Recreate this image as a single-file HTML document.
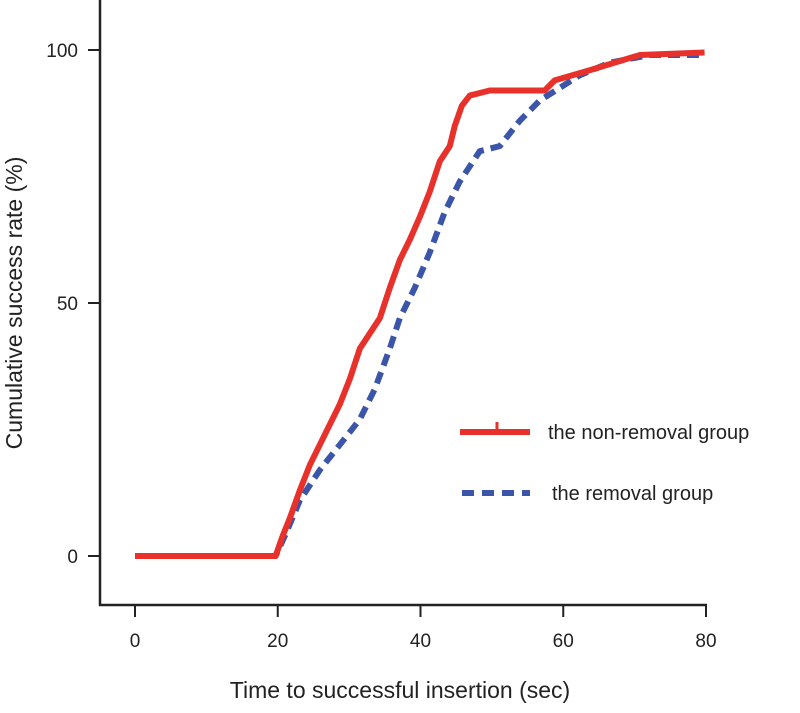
<!DOCTYPE html>
<html><head><meta charset="utf-8"><style>
body{margin:0;background:#fff}
text{font-family:"Liberation Sans",sans-serif;fill:#222}
</style></head><body>
<svg id="chart" width="800" height="708">
<g id="axes"></g>
<g id="series"></g>
<g>
<line x1="460" y1="432" x2="530" y2="432" stroke="#e8312a" stroke-width="6"/>
<line x1="497" y1="432" x2="497" y2="422" stroke="#e8312a" stroke-width="3"/>
<text x="548" y="439" font-size="20">the non-removal group</text>
<line x1="462" y1="493" x2="530" y2="493" stroke="#3b55a8" stroke-width="6" stroke-dasharray="12,8"/>
<text x="552" y="500" font-size="20">the removal group</text>
</g>
<text x="400" y="698" font-size="23" text-anchor="middle">Time to successful insertion (sec)</text>
<text transform="translate(22,303) rotate(-90)" font-size="23" text-anchor="middle">Cumulative success rate (%)</text>
</svg>
<script>
const xTicks=[0,20,40,60,80];
const yTicks=[0,50,100];
const redT=[0,19.7,20.7,21.7,23.1,24.5,26.6,28.7,30.1,31.5,34.3,35.7,37.1,38.5,39.9,41.3,42.7,44.1,44.8,45.8,46.9,49.7,57.4,58.8,63.7,70.7,79.8];
const redV=[0,0,4,7.5,13,18,24,30,35,41,47,53,58.5,62.5,67,72,78,81,85,89,91,92,92,94,96,99,99.5];
const blueT=[0,19.7,21,23.1,25.9,28.7,31.5,33.6,35.7,37.1,39.2,41.3,43.4,45.5,48.3,51.1,53.9,56.7,59.5,62.3,66.5,72.1,79.8];
const blueV=[0,0,4,11,17,22,27,33,41,47,53,60,68,74,80,81,86,90,92.5,95,97.5,99,99];
const X=t=>135+7.1375*t, Y=v=>556-5.06*v;
const NS="http://www.w3.org/2000/svg";
const axes=document.getElementById('axes'), ser=document.getElementById('series');
function mk(tag,attrs,parent){const e=document.createElementNS(NS,tag);for(const k in attrs)e.setAttribute(k,attrs[k]);parent.appendChild(e);return e;}
const ax=mk('path',{d:'M100,0 V605 H707',fill:'none',stroke:'#222','stroke-width':2.5},axes);


xTicks.forEach(t=>{
 const l=mk('line',{x1:X(t),x2:X(t),y1:605,y2:617,stroke:'#222','stroke-width':2},axes);
 
 
 const tx=mk('text',{x:X(t),y:647,'font-size':19,'text-anchor':'middle'},axes);tx.textContent=t;
 
 
});
yTicks.forEach(v=>{
 const l=mk('line',{x1:88,x2:100,y1:Y(v),y2:Y(v),stroke:'#222','stroke-width':2},axes);
 
 
 const tx=mk('text',{x:78,y:Y(v)+7,'font-size':19,'text-anchor':'end'},axes);tx.textContent=v;
 
 
});
function line(T,V,color,dash){
 const pts=T.map((t,i)=>X(t)+','+Y(V[i])).join(' ');
 const p=mk('polyline',{points:pts,fill:'none',stroke:color,'stroke-width':6,'stroke-linejoin':'round'},ser);
 if(dash)p.setAttribute('stroke-dasharray',dash);
 return p;
}
const b=line(blueT,blueV,'#3b55a8','12,7');


const r=line(redT,redV,'#e8312a',null);


</script>
</body></html>
